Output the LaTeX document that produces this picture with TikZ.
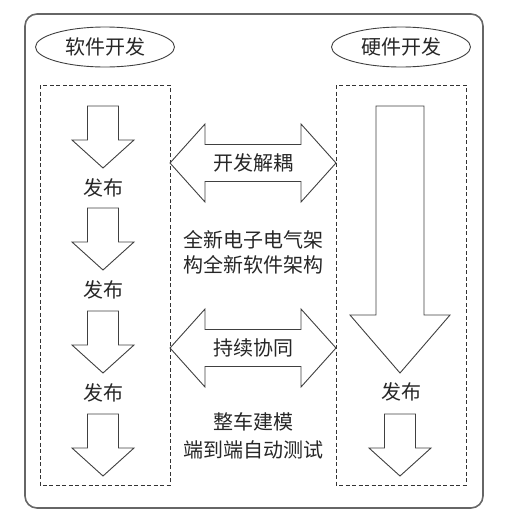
\documentclass[tikz,border=0pt]{standalone}
\usepackage{fontspec}
\newfontfamily\cjk{Noto Sans CJK SC}
\usetikzlibrary{shapes.geometric,positioning}

\tikzset{
  outline/.style={draw=black!75, line width=0.9pt, fill=white},
  zone/.style={draw=black!80, line width=1pt, dash pattern=on 4pt off 2.5pt},
  caption/.style={font=\cjk\fontsize{20}{25}\selectfont, text=black!85, inner sep=0pt, align=center},
  tag/.style={ellipse, draw=black!75, line width=0.9pt, minimum width=139pt, minimum height=40pt, inner sep=0pt, caption}
}

\begin{document}
\begin{tikzpicture}[x=1pt,y=-1pt]
\useasboundingbox (0,0) rectangle (508,520);
% outer frame
\draw[draw=black!60, line width=1.6pt, rounded corners=12pt] (25,14) rectangle (483,508);
% headings
\node[tag] (soft) at (105,47) {软件开发};
\node[tag] (hard) at (401,47) {硬件开发};
% dashed lanes
\draw[zone] (40,85) rectangle (170,485);
\draw[zone] (336,85) rectangle (466,485);
% small release arrows
\foreach \x/\y in {103/106,103/208,103/311,103/414,400/414} {
  \draw[outline] (\x,\y) ++(-15.5,0) -- ++(31,0) -- ++(0,34) -- ++(15.5,0)
    -- ++(-31,28) -- ++(-31,-28) -- ++(15.5,0) -- cycle;
}
% long hardware arrow
\draw[outline] (376,106) -- (424,106) -- (424,315) -- (450,315) -- (400,373)
  -- (350,315) -- (376,315) -- cycle;
% double arrows
\foreach \y in {163,348} {
  \draw[outline] (170,\y) -- (205,\y-39) -- (205,\y-18.5) -- (301,\y-18.5) -- (301,\y-39)
    -- (336,\y) -- (301,\y+39) -- (301,\y+18.5) -- (205,\y+18.5) -- (205,\y+39) -- cycle;
}
% release labels
\foreach \i/\x/\y in {1/103/188,2/103/290,3/103/393,4/401/392} {
  \node[caption] (pub\i) at (\x,\y) {发布};
}
% middle texts
\node[caption] (decouple) at (253,163) {开发解耦};
\node[caption] (arch) at (253,252) {全新电子电气架\\构全新软件架构};
\node[caption] (collab) at (253,348) {持续协同};
\node[caption, font=\cjk\fontsize{20}{28}\selectfont] (test) at (253,436) {整车建模\\端到端自动测试};
\end{tikzpicture}
\end{document}
